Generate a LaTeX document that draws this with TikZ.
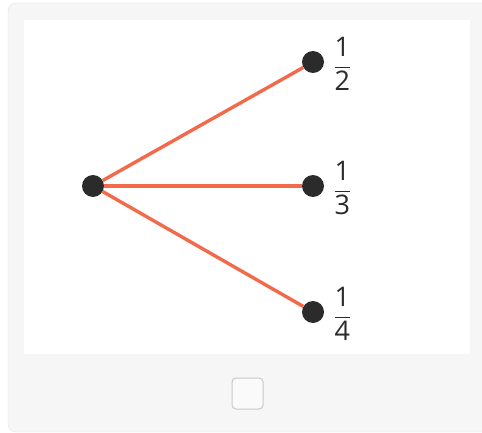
\documentclass[tikz,border=0pt]{standalone}
\usepackage{amsmath}
\usepackage{fontspec}
\setmainfont{Open Sans}
\usepackage{tikz}
\usetikzlibrary{positioning}
\definecolor{edgeorange}{HTML}{F26A4A}
\definecolor{dotgray}{HTML}{2B2B2B}
\definecolor{cardgray}{HTML}{F6F6F6}
\definecolor{cardline}{HTML}{E4E4E4}
\definecolor{boxline}{HTML}{C9C9C9}

\begin{document}
\begin{tikzpicture}[x=1pt, y=-1pt,
    dot/.style={circle, fill=dotgray, inner sep=0pt, minimum size=22pt},
    branch/.style={draw=edgeorange, line width=3.4pt},
    fraclabel/.style={inner sep=0pt, yshift=-2pt, font=\fontsize{27}{32}\selectfont, text=dotgray}]
    \useasboundingbox (0,0) rectangle (482,433);
    % card and white panel
    \draw[cardline, fill=cardgray, rounded corners=8pt] (8,3) rectangle (492,432);
    \fill[white] (24,20) rectangle (470,354);
    % tree
    \node[dot] (root) at (93,186) {};
    \node[dot] (half) at (313,62) {};
    \node[dot] (third) at (313,186) {};
    \node[dot] (quarter) at (313,312) {};
    \draw[branch] (root) -- (half);
    \draw[branch] (root) -- (third);
    \draw[branch] (root) -- (quarter);
    \node[fraclabel, right=9pt of half] (halflbl) {$\dfrac{\text{1}}{\text{2}}$};
    \node[fraclabel, right=9pt of third] (thirdlbl) {$\dfrac{\text{1}}{\text{3}}$};
    \node[fraclabel, right=9pt of quarter] (quarterlbl) {$\dfrac{\text{1}}{\text{4}}$};
    % checkbox
    \node[draw=boxline, fill=white!98!black, rounded corners=4pt, minimum size=31pt, inner sep=0pt, line width=1pt] (check) at (247.5,393.5) {};
\end{tikzpicture}
\end{document}
